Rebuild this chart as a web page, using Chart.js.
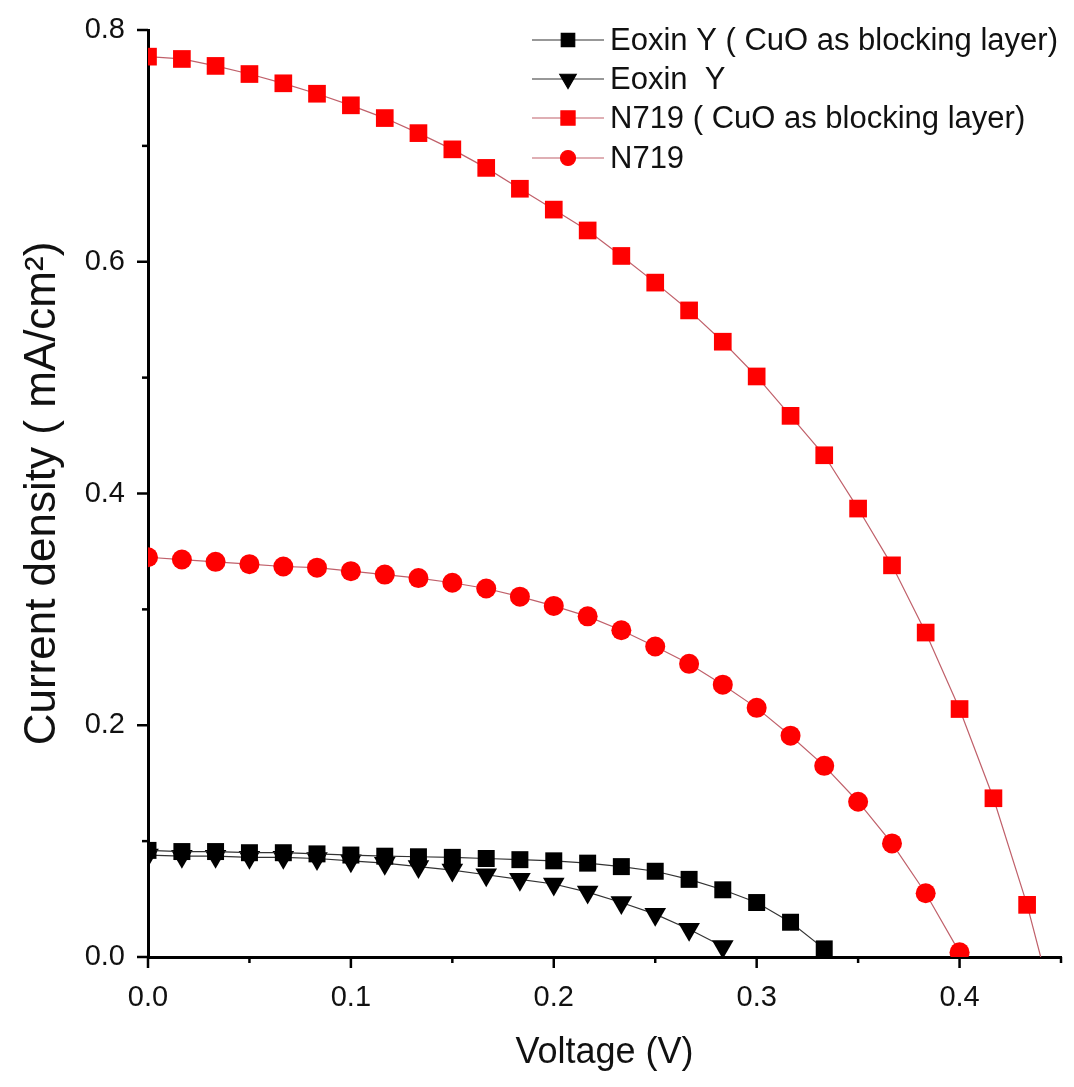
<!DOCTYPE html>
<html>
<head>
<meta charset="utf-8">
<script src="https://cdn.jsdelivr.net/npm/chart.js@4.4.1/dist/chart.umd.min.js"></script>
<style>
html, body { margin: 0; padding: 0; background: #fff; }
#wrap { width: 1074px; height: 1087px; position: relative; }
</style>
</head>
<body>
<div id="wrap"><canvas id="myChart"></canvas></div>
<script>
// Voltage steps (V)
var voltage = [0, 0.0167, 0.0333, 0.05, 0.0667, 0.0833, 0.1, 0.1167, 0.1333, 0.15,
  0.1667, 0.1833, 0.2, 0.2167, 0.2333, 0.25, 0.2667, 0.2833, 0.3, 0.3167,
  0.3333, 0.35, 0.3667, 0.3833, 0.4, 0.4167, 0.4333];

// Current density (mA/cm2)
var eoxinCuO = [0.092, 0.091, 0.091, 0.090, 0.090, 0.089, 0.088, 0.087, 0.0865, 0.086,
  0.085, 0.084, 0.083, 0.081, 0.078, 0.074, 0.067, 0.058, 0.047, 0.030, 0.007];
var eoxin = [0.088, 0.087, 0.087, 0.086, 0.086, 0.085, 0.083, 0.081, 0.078, 0.075,
  0.071, 0.067, 0.063, 0.056, 0.047, 0.037, 0.024, 0.009];
var n719CuO = [0.777, 0.775, 0.769, 0.762, 0.754, 0.745, 0.735, 0.724, 0.711, 0.697,
  0.681, 0.663, 0.645, 0.627, 0.605, 0.582, 0.558, 0.531, 0.501, 0.467,
  0.433, 0.387, 0.338, 0.280, 0.214, 0.137, 0.045];
var n719CuOEnd = [0.44, 0]; // line runs down to the axis after the last marker
var n719 = [0.345, 0.343, 0.341, 0.339, 0.337, 0.336, 0.333, 0.330, 0.327, 0.323,
  0.318, 0.311, 0.303, 0.294, 0.282, 0.268, 0.253, 0.235, 0.215, 0.191,
  0.165, 0.134, 0.098, 0.055, 0.004];

var seriesNames = ['Eoxin Y ( CuO as blocking layer)', 'Eoxin  Y', 'N719 ( CuO as blocking layer)', 'N719'];
var yTicks = [0, 0.2, 0.4, 0.6, 0.8];
var xTicks = [0, 0.1, 0.2, 0.3, 0.4];

function pts(ys) {
  return ys.map(function (y, i) { return {x: voltage[i], y: y}; });
}

var n719CuOData = pts(n719CuO);
n719CuOData.push({x: n719CuOEnd[0], y: n719CuOEnd[1]});
var n719CuORadius = n719CuO.map(function () { return 12.5; });
n719CuORadius.push(0);

var FONT = "'Liberation Sans', Arial, sans-serif";

// legend drawn inside the plot, top right
var legendPlugin = {
  id: 'innerLegend',
  afterDraw: function (chart) {
    var ctx = chart.ctx;
    var x0 = 532, x1 = 604, xt = 610;
    var rows = [40, 79, 118, 158];
    ctx.save();
    chart.data.datasets.forEach(function (ds, i) {
      var y = rows[i];
      ctx.strokeStyle = ds.borderColor;
      ctx.lineWidth = 1.2;
      ctx.beginPath();
      ctx.moveTo(x0, y);
      ctx.lineTo(x1, y);
      ctx.stroke();
      ctx.fillStyle = ds.pointBackgroundColor;
      ctx.strokeStyle = ds.pointBackgroundColor;
      Chart.helpers.drawPoint(ctx, {
        pointStyle: ds.pointStyle,
        rotation: ds.pointRotation || 0,
        radius: ds.legendRadius,
        borderWidth: 1
      }, (x0 + x1) / 2, y);
      ctx.fillStyle = '#111';
      ctx.font = '31px ' + FONT;
      ctx.textBaseline = 'middle';
      ctx.textAlign = 'left';
      ctx.fillText(seriesNames[i], xt, y + 1);
    });
    ctx.restore();
  }
};

// major and minor tick marks of different length
var tickPlugin = {
  id: 'axisTicks',
  afterDraw: function (chart) {
    var ctx = chart.ctx;
    var xs = chart.scales.x, ys = chart.scales.y;
    ctx.save();
    ctx.strokeStyle = '#000';
    ctx.lineWidth = 2.5;
    xs.ticks.forEach(function (t) {
      var p = xs.getPixelForValue(t.value);
      var major = Math.round(t.value * 20) % 2 === 0;
      ctx.beginPath();
      ctx.moveTo(p, xs.top);
      ctx.lineTo(p, xs.top + (major ? 11 : 6));
      ctx.stroke();
    });
    ys.ticks.forEach(function (t) {
      var p = ys.getPixelForValue(t.value);
      var major = Math.round(t.value * 10) % 2 === 0;
      ctx.beginPath();
      ctx.moveTo(ys.right, p);
      ctx.lineTo(ys.right - (major ? 11 : 6), p);
      ctx.stroke();
    });
    ctx.restore();
  }
};

var ctx = document.getElementById('myChart').getContext('2d');
var myChart = new Chart(ctx, {
  type: 'line',
  data: {
    datasets: [{
      label: seriesNames[0],
      data: pts(eoxinCuO),
      borderColor: '#333333',
      borderWidth: 1.2,
      pointStyle: 'rect',
      pointRadius: 12,
      legendRadius: 9.5,
      pointBackgroundColor: '#000000',
      pointBorderColor: '#000000',
      pointBorderWidth: 0,
      clip: 0
    }, {
      label: seriesNames[1],
      data: pts(eoxin),
      borderColor: '#333333',
      borderWidth: 1.2,
      pointStyle: 'triangle',
      pointRotation: 180,
      pointRadius: 12.5,
      legendRadius: 9.5,
      pointBackgroundColor: '#000000',
      pointBorderColor: '#000000',
      pointBorderWidth: 0,
      clip: 0
    }, {
      label: seriesNames[2],
      data: n719CuOData,
      borderColor: '#c0606a',
      borderWidth: 1.2,
      pointStyle: 'rect',
      pointRadius: n719CuORadius,
      legendRadius: 10,
      pointBackgroundColor: '#ff0000',
      pointBorderColor: '#ff0000',
      pointBorderWidth: 0,
      clip: 0
    }, {
      label: seriesNames[3],
      data: pts(n719),
      borderColor: '#c0606a',
      borderWidth: 1.2,
      pointStyle: 'circle',
      pointRadius: 10,
      legendRadius: 7.5,
      pointBackgroundColor: '#ff0000',
      pointBorderColor: '#ff0000',
      pointBorderWidth: 0,
      clip: 0
    }]
  },
  options: {
    responsive: true,
    maintainAspectRatio: false,
    animation: false,
    layout: {padding: {left: 0, top: 30, right: 4, bottom: 0}},
    plugins: {
      legend: {display: false},
      tooltip: {enabled: false}
    },
    scales: {
      x: {
        type: 'linear',
        min: 0,
        max: 0.45,
        afterFit: function (s) { s.height = 130; },
        border: {display: true, color: '#000', width: 3},
        grid: {display: true, drawOnChartArea: false, drawTicks: true, tickLength: 11, tickColor: 'rgba(0,0,0,0)'},
        ticks: {
          stepSize: 0.05,
          padding: 13,
          color: '#111',
          font: {family: FONT, size: 29},
          maxRotation: 0,
          autoSkip: false,
          callback: function (v) {
            var hit = xTicks.filter(function (t) { return Math.abs(t - v) < 1e-6; });
            return hit.length ? hit[0].toFixed(1) : '';
          }
        },
        title: {
          display: true,
          text: 'Voltage (V)',
          color: '#111',
          font: {family: FONT, size: 36},
          padding: {top: 0, bottom: 12}
        }
      },
      y: {
        type: 'linear',
        min: 0,
        max: 0.8,
        afterFit: function (s) { s.width = 148; },
        border: {display: true, color: '#000', width: 3},
        grid: {display: true, drawOnChartArea: false, drawTicks: true, tickLength: 11, tickColor: 'rgba(0,0,0,0)'},
        ticks: {
          stepSize: 0.1,
          padding: 12,
          color: '#111',
          font: {family: FONT, size: 29},
          autoSkip: false,
          callback: function (v) {
            var hit = yTicks.filter(function (t) { return Math.abs(t - v) < 1e-6; });
            return hit.length ? hit[0].toFixed(1) : '';
          }
        },
        title: {
          display: true,
          text: 'Current density ( mA/cm\u00b2)',
          color: '#111',
          font: {family: FONT, size: 44},
          padding: {top: 16, bottom: 0}
        }
      }
    }
  },
  plugins: [tickPlugin, legendPlugin]
});
</script>
</body>
</html>
